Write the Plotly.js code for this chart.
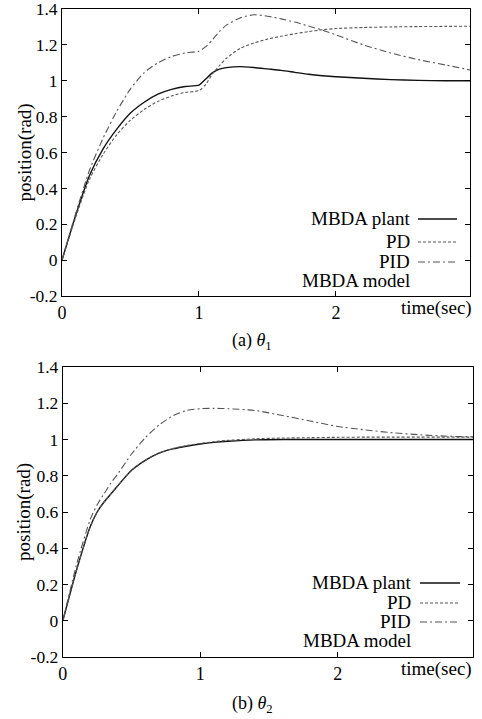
<!DOCTYPE html>
<html>
<head>
<meta charset="utf-8">
<script src="https://cdn.plot.ly/plotly-3.0.1.min.js"></script>
<style>html,body{margin:0;padding:0;background:#fff;}#chart{width:482px;height:719px;}</style>
</head>
<body>
<div id="chart"></div>
<script>
// ---- data ----
const tA = [0,0.1,0.2,0.3,0.4,0.5,0.6,0.7,0.8,0.9,1.0,1.05,1.1,1.15,1.2,1.3,1.4,1.5,1.6,1.7,1.8,1.9,2.0,2.2,2.4,2.6,2.8,2.98];
const aPlant = [0,0.25,0.47,0.62,0.73,0.82,0.88,0.925,0.952,0.968,0.975,1.01,1.045,1.065,1.073,1.079,1.074,1.066,1.058,1.047,1.036,1.028,1.022,1.014,1.006,1.002,1.0,1.0];
const aPD    = [0,0.24,0.45,0.59,0.70,0.78,0.84,0.885,0.915,0.935,0.945,0.98,1.04,1.085,1.125,1.18,1.21,1.232,1.248,1.262,1.274,1.284,1.291,1.297,1.30,1.302,1.303,1.304];
const aPID   = [0,0.26,0.50,0.68,0.83,0.955,1.045,1.10,1.135,1.155,1.165,1.19,1.23,1.275,1.31,1.35,1.368,1.36,1.345,1.327,1.305,1.283,1.256,1.20,1.155,1.118,1.088,1.06];

const tB = [0,0.1,0.2,0.25,0.3,0.35,0.4,0.5,0.6,0.7,0.8,0.9,1.0,1.1,1.2,1.4,1.6,1.8,2.0,2.2,2.4,2.6,2.8,2.99];
const bPlant = [0,0.28,0.52,0.60,0.655,0.70,0.745,0.83,0.885,0.925,0.948,0.963,0.975,0.984,0.99,0.998,1.0,1.0,1.0,1.0,1.0,1.0,1.0,1.0];
const bPD    = [0,0.28,0.52,0.60,0.655,0.70,0.745,0.83,0.885,0.925,0.95,0.966,0.978,0.988,0.995,1.004,1.008,1.01,1.012,1.013,1.013,1.013,1.013,1.013];
const bPID   = [0,0.31,0.56,0.64,0.70,0.76,0.81,0.92,1.01,1.08,1.13,1.16,1.17,1.172,1.17,1.16,1.132,1.102,1.072,1.053,1.037,1.026,1.018,1.015];

const seriesNames = ["MBDA plant","PD","PID","MBDA model"];
const yTickVals = [-0.2,0,0.2,0.4,0.6,0.8,1,1.2,1.4];
const yTickText = ["-0.2","0","0.2","0.4","0.6","0.8","1","1.2","1.4"];
const xTickVals = [0,1,2];
const xTickText = ["0","1","2"];
const captions = ["(a) <i>θ</i><sub>1</sub>","(b) <i>θ</i><sub>2</sub>"];
const xLabel = "time(sec)";
const yLabel = "position(rad)";

// ---- styles ----
const FONT = "Liberation Serif";
const styles = [
  {color:"#111", width:1.4, dash:"solid"},
  {color:"#555", width:1.1, dash:"3px,2px"},
  {color:"#555", width:1.1, dash:"7px,3px,2px,3px"}
];

const W = 482, H = 719, ML = 62, MR = 9, MT = 9, MB = 62;
const PW = W - ML - MR, PH = H - MT - MB;
const px = x => (x - ML) / PW;
const py = y => (H - MB - y) / PH;

function tr(x, y, i, xa, ya) {
  return {x:x, y:y, name:seriesNames[i], type:"scatter", mode:"lines",
    xaxis:xa, yaxis:ya, line:{color:styles[i].color, width:styles[i].width, dash:styles[i].dash, shape:"spline", smoothing:0.6},
    showlegend:false, hoverinfo:"skip"};
}
const data = [
  tr(tA,aPlant,0,"x","y"), tr(tA,aPD,1,"x","y"), tr(tA,aPID,2,"x","y"),
  tr(tB,bPlant,0,"x2","y2"), tr(tB,bPD,1,"x2","y2"), tr(tB,bPID,2,"x2","y2")
];

function xax(domain, range, anchor) {
  return {domain:domain, range:range, anchor:anchor, tickmode:"array", tickvals:xTickVals, ticktext:xTickText,
    ticks:"inside", ticklen:5, tickcolor:"#000", showline:true, mirror:"ticks", linecolor:"#000", linewidth:1,
    showgrid:false, zeroline:false, ticklabeloverflow:"allow", tickfont:{family:FONT, size:18, color:"#000"}};
}
function yax(domain, anchor) {
  return {domain:domain, range:[-0.2,1.4], anchor:anchor, tickmode:"array", tickvals:yTickVals, ticktext:yTickText,
    ticks:"inside", ticklen:5, tickcolor:"#000", showline:true, mirror:"ticks", linecolor:"#000", linewidth:1,
    showgrid:false, zeroline:false, ticklabeloverflow:"allow", tickfont:{family:FONT, size:17.5, color:"#000"}};
}

const annotations = [];
const shapes = [];
const plots = [
  {top:9, bottom:296, legX:412, legY:[218,241,261,280], lineX:[418,457], cap:342, xlab:308},
  {top:367, bottom:657, legX:413, legY:[582,602,621,640], lineX:[420,460], cap:705, xlab:669}
];
plots.forEach((p, k) => {
  annotations.push({text:yLabel, xref:"paper", yref:"paper", x:px(24), y:py((p.top+p.bottom)/2),
    textangle:-90, showarrow:false, xanchor:"center", yanchor:"middle", font:{family:FONT, size:19, color:"#000"}});
  annotations.push({text:xLabel, xref:"paper", yref:"paper", x:px(474), y:py(p.xlab), xanchor:"right", yanchor:"middle",
    showarrow:false, font:{family:FONT, size:19, color:"#000"}});
  annotations.push({text:captions[k], xref:"paper", yref:"paper", x:px(252), y:py(p.cap), xanchor:"center", yanchor:"middle",
    showarrow:false, font:{family:FONT, size:18, color:"#000"}});
  seriesNames.forEach((n, i) => {
    annotations.push({text:n, xref:"paper", yref:"paper", x:px(p.legX), y:py(p.legY[i]), xanchor:"right", yanchor:"middle",
      showarrow:false, font:{family:FONT, size:19, color:"#000"}});
    if (i < 3) {
      shapes.push({type:"line", xref:"paper", yref:"paper", x0:px(p.lineX[0]), x1:px(p.lineX[1]), y0:py(p.legY[i]+1), y1:py(p.legY[i]+1),
        line:{color:styles[i].color, width:styles[i].width, dash:styles[i].dash}});
    }
  });
});

const layout = {
  width:W, height:H, margin:{l:ML, r:MR, t:MT, b:MB}, paper_bgcolor:"#fff", plot_bgcolor:"#fff",
  showlegend:false, font:{family:FONT, color:"#000"},
  xaxis: xax([0, 0.993], [0, 2.98], "y"),
  yaxis: yax([py(296), 1], "x"),
  xaxis2: xax([0.002, 1], [0, 2.985], "y2"),
  yaxis2: yax([0, py(367)], "x2"),
  annotations:annotations, shapes:shapes
};
Plotly.newPlot("chart", data, layout, {staticPlot:true, displayModeBar:false});
</script>
</body>
</html>
